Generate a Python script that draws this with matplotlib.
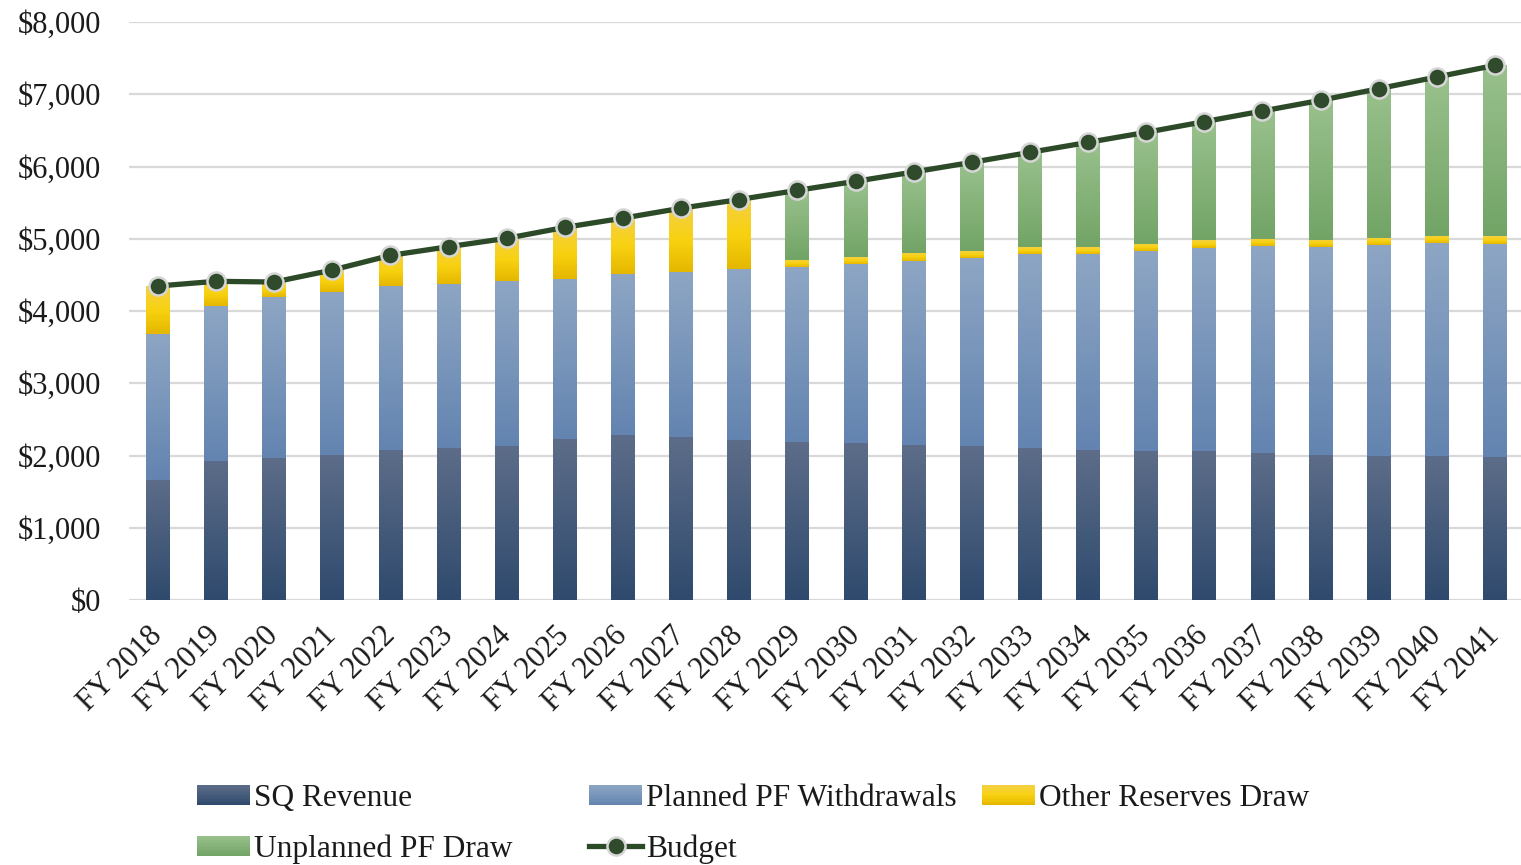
import numpy as np
import matplotlib

matplotlib.use("Agg")
import matplotlib.pyplot as plt
from matplotlib.colors import LinearSegmentedColormap
from matplotlib.legend_handler import HandlerBase
from matplotlib.lines import Line2D
from matplotlib.patches import Patch, Rectangle

plt.rcParams["font.family"] = ["Liberation Serif", "DejaVu Serif"]

years = [f"FY {y}" for y in range(2018, 2042)]
sq_revenue = [1661, 1928, 1965, 2007, 2076, 2104, 2131, 2228, 2284, 2256, 2215, 2187,
              2173, 2145, 2131, 2104, 2076, 2062, 2062, 2035, 2007, 1993, 1993, 1979]
planned_pf = [2025, 2146, 2229, 2261, 2270, 2275, 2284, 2215, 2230, 2288, 2360, 2422,
              2482, 2547, 2603, 2690, 2718, 2768, 2815, 2865, 2879, 2920, 2948, 2953]
other_reserves = [660, 337, 207, 299, 424, 511, 591, 715, 770, 880, 970, 97,
                  92, 111, 96, 92, 92, 97, 106, 97, 97, 97, 97, 106]
unplanned_pf = [0, 0, 0, 0, 0, 0, 0, 0, 0, 0, 0, 955,
                1048, 1121, 1228, 1310, 1448, 1546, 1638, 1771, 1933, 2067, 2201, 2362]
budget = [4346, 4411, 4401, 4567, 4770, 4890, 5006, 5158, 5285, 5423, 5543, 5670,
          5795, 5924, 6058, 6196, 6334, 6473, 6621, 6768, 6916, 7077, 7239, 7400]

GRADIENTS = {
    "SQ Revenue": ["#2f4a6d", "#5d6d89"],
    "Planned PF Withdrawals": ["#6384b0", "#8ea6c4"],
    "Other Reserves Draw": ["#e5b700", "#f8d210", "#f3d046"],
    "Unplanned PF Draw": ["#72a466", "#99c18d"],
}
LINE_GREEN = "#2c4a28"
TEXT = "#1a1a1a"
FS = 22


class GradientHandler(HandlerBase):
    def __init__(self, cmap, strips=14):
        super().__init__()
        self.cmap = cmap
        self.strips = strips

    def create_artists(self, legend, orig_handle, xdescent, ydescent, width, height, fontsize, trans):
        artists = []
        for i in range(self.strips):
            y0 = -ydescent + height * i / self.strips
            artists.append(Rectangle((-xdescent, y0), width, height / self.strips * 1.05,
                                     facecolor=self.cmap((i + 0.5) / self.strips),
                                     edgecolor="none", transform=trans))
        return artists


def gradient_bars(ax, x, heights, bottoms, width, cmap):
    bars = ax.bar(x, heights, width, bottom=bottoms, color="none", edgecolor="none", zorder=2)
    grad = np.linspace(0, 1, 256).reshape(-1, 1)
    for patch in bars.patches:
        if patch.get_height() <= 0:
            continue
        x0, y0 = patch.get_x(), patch.get_y()
        im = ax.imshow(grad, cmap=cmap, origin="lower", aspect="auto", interpolation="bicubic",
                       extent=[x0, x0 + patch.get_width(), y0, y0 + patch.get_height()], zorder=2)
        im.set_clip_path(patch)
    return bars


fig = plt.figure(figsize=(15.21, 8.65), dpi=100)
W, H = 1521, 865
x_left, x_right = 128.9, 1521
ax = fig.add_axes([x_left / W, (H - 600) / H, (x_right - x_left) / W, (600 - 22) / H])

x = np.arange(len(years))
cmaps = {name: LinearSegmentedColormap.from_list(name, cols) for name, cols in GRADIENTS.items()}
bottom = np.zeros(len(years))
for name, values in [("SQ Revenue", sq_revenue), ("Planned PF Withdrawals", planned_pf),
                     ("Other Reserves Draw", other_reserves), ("Unplanned PF Draw", unplanned_pf)]:
    gradient_bars(ax, x, values, bottom, 0.41, cmaps[name])
    bottom = bottom + np.array(values)

ax.plot(x, budget, color=LINE_GREEN, linewidth=3.8, marker="o", markersize=13,
        markerfacecolor="#2f4b2c", markeredgecolor="#d6d6d6", markeredgewidth=1.8, zorder=4)

ax.set_xlim(-0.5, -0.5 + (x_right - x_left) / 58.13)
ax.set_ylim(0, 8000)
ax.set_yticks(range(0, 8001, 1000))
ax.set_yticklabels([f"${v:,}" for v in range(0, 8001, 1000)])
ax.set_xticks(x)
ax.set_xticklabels(years, rotation=45, ha="right", va="center", rotation_mode="anchor")
ax.tick_params(axis="y", length=0, pad=20, labelsize=FS, labelcolor=TEXT)
ax.tick_params(axis="x", length=0, pad=23, labelsize=FS, labelcolor=TEXT)
ax.grid(axis="y", color="#d9d9d9", linewidth=1.6, zorder=0)
ax.set_axisbelow(True)
for spine in ax.spines.values():
    spine.set_visible(False)

# legend laid out as three columns, like the source
proxies = {name: Patch(label=name) for name in GRADIENTS}
handler_map = {proxies[name]: GradientHandler(cmaps[name]) for name in GRADIENTS}
budget_handle = Line2D([], [], color=LINE_GREEN, linewidth=3.8, marker="o", markersize=13,
                       markerfacecolor="#2f4b2c", markeredgecolor="#d6d6d6", markeredgewidth=1.8,
                       label="Budget")
columns = [
    (197, [proxies["SQ Revenue"], proxies["Unplanned PF Draw"]]),
    (589, [proxies["Planned PF Withdrawals"], budget_handle]),
    (982, [proxies["Other Reserves Draw"]]),
]
for xpos, handles in columns:
    leg = fig.legend(handles=handles, loc="upper left", bbox_to_anchor=(xpos / W, 1 - 784 / H),
                     frameon=False, fontsize=22.6, handlelength=1.7, handleheight=0.6,
                     handletextpad=0.12, labelspacing=0.68, borderpad=0, borderaxespad=0,
                     numpoints=1, handler_map=handler_map)
    for t in leg.get_texts():
        t.set_color(TEXT)

fig.savefig("out.png", dpi=100)
